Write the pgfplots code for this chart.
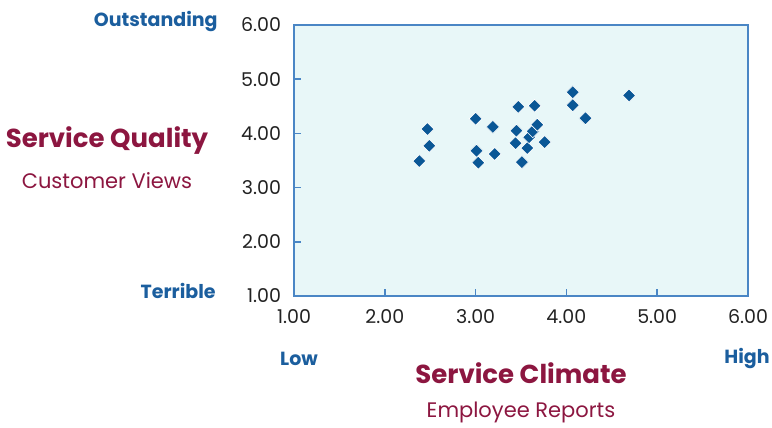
\documentclass[border=0pt]{standalone}
\usepackage{pgfplots}
\pgfplotsset{compat=1.18}
\usepackage{fontspec}
\setmainfont{Poppins}
\definecolor{bgc}{HTML}{E8F7F8}
\definecolor{axc}{HTML}{4A86C5}
\definecolor{mkc}{HTML}{0A5796}
\definecolor{maroon}{HTML}{8C1640}
\definecolor{lblue}{HTML}{1B5E9E}
\definecolor{tickc}{HTML}{222222}
\begin{document}
\begin{tikzpicture}[x=0.5pt,y=0.5pt]
\path[use as bounding box] (0,0) rectangle (772,428);
\begin{axis}[
  at={(294*0.5pt,132*0.5pt)}, anchor=south west,
  scale only axis, width=227pt, height=135.5pt,
  xmin=1, xmax=6, ymin=1, ymax=6,
  xtick={1,2,3,4,5,6}, ytick={1,2,3,4,5,6},
  xtick pos=bottom, ytick pos=left,
  tick align=inside, major tick length=3.5pt,
  axis line style={axc, line width=0.8pt},
  every tick/.style={axc, line width=0.8pt},
  axis background/.style={fill=bgc},
  /pgf/number format/assume math mode=true,
  /pgf/number format/.cd, fixed, fixed zerofill, precision=2, /pgfplots/.cd,
  tick label style={font=\fontsize{9.5}{11}\selectfont, text=tickc},
  xticklabel style={yshift=-3pt},
  yticklabel style={xshift=-3pt},
  clip=false,
]
\addplot[only marks, mark=square*, mark size=2.3pt, mark options={rotate=45, fill=mkc, draw=white, line width=0.3pt}] coordinates {
(2.38,3.49) (2.49,3.77) (2.47,4.08) (3.00,4.27) (3.01,3.68) (3.03,3.46)
(3.19,4.12) (3.21,3.62) (3.47,4.49) (3.65,4.51) (3.45,4.05) (3.44,3.82)
(3.51,3.47) (3.57,3.73) (3.59,3.93) (3.63,4.04) (3.68,4.16) (3.76,3.84)
(4.07,4.76) (4.07,4.52) (4.21,4.28) (4.69,4.70)
};
\end{axis}
\node[anchor=east, inner sep=0pt, text=lblue, font=\fontsize{9.5}{11}\selectfont\bfseries] at (218,406) {Outstanding};
\node[anchor=east, inner sep=0pt, text=lblue, font=\fontsize{9.5}{11}\selectfont\bfseries] at (216,137) {Terrible};
\node[text=maroon, font=\fontsize{13}{15}\selectfont\bfseries] at (107,287) {Service Quality};
\node[text=maroon, font=\fontsize{10.5}{12}\selectfont] at (107,247) {Customer Views};
\node[text=lblue, font=\fontsize{9.5}{11}\selectfont\bfseries] at (299,69) {Low};
\node[text=lblue, font=\fontsize{9.5}{11}\selectfont\bfseries] at (747,69) {High};
\node[text=maroon, font=\fontsize{13}{15}\selectfont\bfseries] at (521,55) {Service Climate};
\node[text=maroon, font=\fontsize{10.5}{12}\selectfont] at (521,16) {Employee Reports};
\end{tikzpicture}
\end{document}
